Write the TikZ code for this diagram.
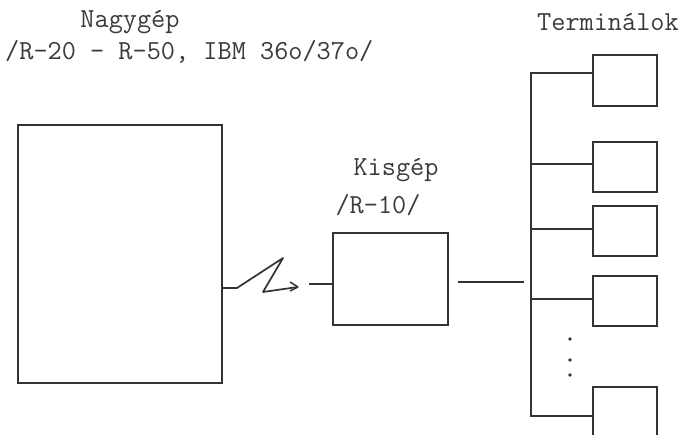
\documentclass[tikz,border=0pt]{standalone}
\usepackage{fontspec}
\usetikzlibrary{arrows.meta}
\definecolor{ink}{HTML}{333333}
\definecolor{typ}{HTML}{3A3A3A}
\begin{document}
\begin{tikzpicture}[x=1pt,y=-1pt,
  box/.style={draw=ink,line width=1.3pt,inner sep=0pt,minimum width=#1},
  wire/.style={draw=ink,line width=1.3pt},
  lbl/.style={inner sep=0pt,text=typ,font=\ttfamily\fontsize{27.5}{32}\selectfont}]
\useasboundingbox (0,0) rectangle (681,435);
% labels
\node[lbl] (nagy) at (130,22) {Nagygép};
\node[lbl,anchor=west] (nagyt) at (5,52) {/R-20 - R-50, IBM 36o/37o/};
\node[lbl,anchor=east] (term) at (679,22) {Terminálok};
\node[lbl] (kis) at (396,170) {Kisgép};
\node[lbl] (kist) at (378,205) {/R-10/};
% machines
\node[box=204pt,minimum height=258pt] (big) at (120,254) {};
\node[box=115pt,minimum height=92pt] (small) at (390.5,279) {};
% terminals
\node[box=64pt,minimum height=51pt] (t1) at (625,80.5) {};
\node[box=64pt,minimum height=50pt] (t2) at (625,167) {};
\node[box=64pt,minimum height=50pt] (t3) at (625,231) {};
\node[box=64pt,minimum height=50pt] (t4) at (625,301) {};
\node[box=64pt,minimum height=50pt] (t5) at (625,412) {};
% bus
\coordinate (b1) at (531,73);
\coordinate (b2) at (531,164);
\coordinate (b3) at (531,229);
\coordinate (b4) at (531,299);
\coordinate (b5) at (531,416);
\draw[wire] (b1 -| t1.west) -- (b1) -- (b5) -- (b5 -| t5.west);
\draw[wire] (b2) -- (b2 -| t2.west);
\draw[wire] (b3) -- (b3 -| t3.west);
\draw[wire] (b4) -- (b4 -| t4.west);
% small to bus
\coordinate (s1) at (458,282);
\coordinate (s2) at (524,282);
\draw[wire] (s1) -- (s2);
% telecom link
\coordinate (z0) at (big.east |- 0,288);
\coordinate (z1) at (237,288);
\coordinate (z2) at (283,258);
\coordinate (z3) at (263,292);
\coordinate (z4) at (298,287);
\coordinate (d1) at (309,284);
\draw[wire,line width=1.7pt,line join=round] (z0) -- (z1) -- (z2) -- (z3) -- (z4);
\draw[wire,line width=1.5pt] (z4) -- ++(-8,-5) (z4) -- ++(-8,4);
\draw[wire,line width=1.7pt] (d1) -- (d1 -| small.west);
% dots
\foreach \yy/\n in {339/1,360/2,375/3}
  \fill[ink] (570,\yy) circle (1.8pt) coordinate (dot\n);
\end{tikzpicture}
\end{document}
